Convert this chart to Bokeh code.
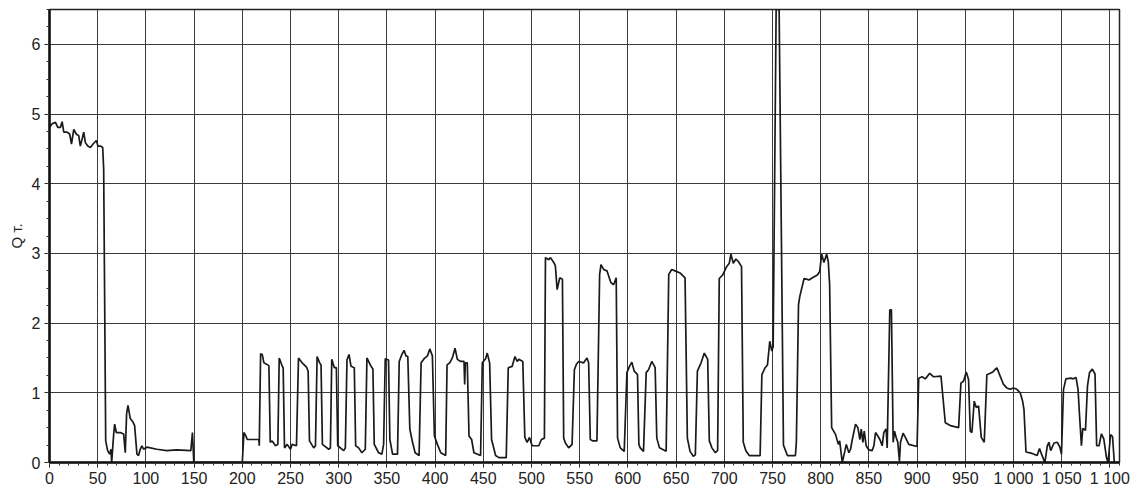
from bokeh.plotting import figure
from bokeh.models import FixedTicker, ColumnDataSource
from bokeh.embed import file_html
from bokeh.resources import INLINE

# time (x) and Q (t)
t_vals = [
    0, 2.8, 6.2, 8.6, 11.4, 13.1, 14.8, 18.3, 21, 22.8, 25.2, 27.9, 30.3, 32, 33.8, 35.5, 37.2, 39.7,
    42.4, 45.2, 48.6, 50.3, 52.8, 55.2, 56.2, 58.3, 60.3, 62.4, 63.8, 64.5, 66.6, 67.6, 69.3, 73.4,
    76.9, 78.6, 80, 81.4, 83.8, 86.6, 88.3, 90.7, 92.4, 94.1, 95.9, 97.6, 101, 111.4, 121.7, 132,
    146.6, 148.3, 149.7, 198.3,
    200, 201.7, 203.4, 205.2, 217.2, 217.6, 219, 220.7, 222.4, 227.6, 229, 231, 234.5, 236.9, 238.3,
    239.7, 241.4, 242.4, 243.8, 246.6, 250, 251.7, 256.2, 258.3, 262.1, 266.6, 268.3, 269.7, 274.1,
    275.9, 277.6, 280.3, 281.7, 283.1, 289.7, 291.4, 292.8, 295.5, 297.6, 299, 305.2, 306.9, 308.6,
    310.7, 312.8, 316.2, 317.6, 320.7, 324.1, 327.6, 329.3, 332.8, 335.5, 336.9, 341.4, 344.8, 346.6,
    348.3, 351.7, 353.1, 355.9, 361, 362.8, 365.5, 367.9, 369.7, 371.7, 373.8, 376.6, 379.3, 383.4,
    385.5, 388.6, 392.1, 394.5, 397.2, 399.3, 402.4, 405.9, 411, 412.4, 415.2, 417.9, 420.7, 423.1,
    426.6, 430, 430.7, 431.4, 433.4, 435.2, 437.9, 440.3, 447.2, 449, 452.4, 454.1, 456.6, 458.6,
    462.8, 466.2, 473.8, 475.9, 480, 482.8, 485.2, 486.9, 491, 493.1, 495.5, 497.9, 500.7, 507.6,
    510.3, 513.4, 514.5, 517.9, 519.7, 523.1, 524.8, 526.6, 529.3, 532.1, 533.4, 535.2, 538.6, 542.1,
    544.5, 546.6, 549, 554.1, 557.6, 559.3, 561, 563.8, 567.9, 570.7, 572.1, 574.8, 578.3, 582.4,
    585.2, 587.9, 589.3, 592.1, 596.2, 599, 601.7, 604.1, 606.6, 610, 611.4, 612.8, 616.2, 619, 621.4,
    624.8, 628.3, 630, 632.8, 639.7, 642.4, 645.5, 649, 654.1, 659.3, 661.7, 664.5, 667.9, 670,
    672.1, 675.9, 679.3, 682.8, 684.5, 687.2, 690.7, 693.1, 694.8, 698.3, 702.4, 705.2, 706.9, 709.3,
    712.1, 714.8, 717.9, 719.7, 722.4, 725.9, 737.2, 739, 742.4, 744.8, 747.2, 749.3, 750.7, 753.8,
    756.9, 761.4, 765.5, 773.8, 774.8, 777, 778.3, 782.8, 787.9, 791.4, 796.6, 799, 801, 803.4, 806.2,
    807.9, 809.3, 811.4, 815.5, 818.3, 819.7, 822.4, 825.2, 826.6, 829.3, 831, 832.8, 836.2, 838.6,
    840.7, 842.1, 843.8, 845.2, 847.2, 850, 853.4, 855.2, 856.9, 859.3, 861.4, 863.8, 865.5, 867.9,
    869, 871.7, 873.4, 875.2, 876.6, 878.3, 880, 881.7, 882.8, 885.5, 887.9, 891.4, 900, 901.7, 905.2,
    908.6, 913.1, 917.2, 924.8, 929.3, 934.5, 943.1, 945.5, 948.3, 951, 953.4, 955.2, 956.9, 959.3,
    961.4, 963.8, 966.6, 969.7, 972.4, 975.9, 978.6, 982.8, 986.2, 989.7, 993.1, 996.6, 1000, 1003.5,
    1007, 1009.5, 1010.9, 1013, 1019.3, 1024.6, 1027, 1029.1, 1032.6, 1035.1, 1036.8, 1038.6, 1042.1,
    1045.6, 1048.1, 1049.8, 1051.9, 1054.4, 1059.6, 1062.1, 1064.9, 1067, 1068.4, 1070.5, 1071.9,
    1074.7, 1076.8, 1078.9, 1081.8, 1084.6, 1086.3, 1088.8, 1091.2, 1093.7, 1096.5, 1098.2, 1100.7,
    1102.8, 1104.6,
]
q_vals = [
    4.81, 4.86, 4.88, 4.81, 4.81, 4.89, 4.74, 4.74, 4.71, 4.57, 4.78, 4.71, 4.69, 4.54, 4.64, 4.74, 4.59, 4.54,
    4.52, 4.57, 4.62, 4.54, 4.54, 4.52, 4.21, 0.31, 0.17, 0.12, 0.19, 0.0, 0.41, 0.55, 0.43, 0.43,
    0.41, 0.14, 0.70, 0.82, 0.63, 0.58, 0.53, 0.12, 0.10, 0.19, 0.24, 0.19, 0.22, 0.19, 0.17, 0.18,
    0.17, 0.43, 0.0, 0.0,
    0.0, 0.43, 0.39, 0.33, 0.33, 0.24, 1.56, 1.55, 1.43, 1.39, 0.29, 0.31, 0.24, 0.26, 1.50,
    1.45, 1.38, 1.36, 0.21, 0.26, 0.19, 0.26, 0.24, 1.50, 1.43, 1.37, 1.31, 0.31, 0.21,
    0.24, 1.52, 1.43, 1.40, 0.26, 0.19, 0.21, 1.48, 1.36, 1.36, 0.24, 0.17, 0.21, 1.47,
    1.55, 1.38, 1.36, 0.24, 0.21, 0.14, 0.19, 1.50, 1.40, 1.34, 0.26, 0.14, 0.12, 0.26,
    1.49, 1.47, 0.33, 0.12, 0.12, 1.45, 1.55, 1.61, 1.53, 1.52, 0.48, 0.29, 0.14, 0.10,
    1.43, 1.49, 1.53, 1.63, 1.53, 0.38, 0.26, 0.14, 0.10, 1.40, 1.43, 1.50, 1.64, 1.48,
    1.45, 1.45, 1.12, 1.43, 1.43, 0.38, 0.33, 0.14, 0.10, 1.43, 1.49, 1.57, 1.43, 0.33,
    0.10, 0.07, 0.07, 1.36, 1.38, 1.52, 1.45, 1.48, 1.45, 0.36, 0.29, 0.36, 0.24, 0.24,
    0.33, 0.35, 2.94, 2.91, 2.94, 2.87, 2.82, 2.48, 2.65, 2.63, 0.35, 0.28, 0.21, 0.26,
    1.33, 1.41, 1.45, 1.43, 1.50, 1.43, 0.33, 0.31, 0.31, 2.70, 2.84, 2.77, 2.75, 2.58,
    2.55, 2.65, 0.35, 0.21, 0.16, 1.29, 1.38, 1.44, 1.31, 1.26, 0.26, 0.21, 0.16, 1.29, 1.33,
    1.45, 1.36, 0.35, 0.21, 0.16, 2.70, 2.77, 2.75, 2.72, 2.65, 0.35, 0.16, 0.09, 0.11,
    1.31, 1.43, 1.57, 1.48, 0.31, 0.21, 0.14, 0.17, 2.64, 2.69, 2.81, 2.86, 2.99, 2.86,
    2.92, 2.88, 2.81, 0.29, 0.17, 0.10, 0.10, 1.26, 1.36, 1.40, 1.74, 1.60, 1.66, 6.5,
    6.5, 0.25, 0.10, 0.10, 0.30, 2.26, 2.38, 2.64, 2.62, 2.65, 2.69, 2.74, 2.99, 2.87, 2.99,
    2.88, 2.55, 0.50, 0.40, 0.26, 0.31, 0.0, 0.17, 0.26, 0.14, 0.19, 0.33, 0.55, 0.50,
    0.33, 0.48, 0.29, 0.45, 0.24, 0.18, 0.17, 0.24, 0.43, 0.38, 0.33, 0.24, 0.43, 0.48,
    0.21, 2.19, 2.19, 0.29, 0.45, 0.36, 0.29, 0.02, 0.29, 0.42, 0.36, 0.26, 0.23, 1.21, 1.23,
    1.20, 1.28, 1.23, 1.24, 0.57, 0.53, 0.50, 1.14, 1.17, 1.30, 1.19, 0.45, 0.43, 0.88,
    0.79, 0.81, 0.36, 0.29, 1.26, 1.28, 1.30, 1.36, 1.24, 1.12, 1.07, 1.05, 1.07, 1.05,
    1.00, 0.88, 0.76, 0.15, 0.13, 0.10, 0.20, 0.12, 0.0, 0.24, 0.29, 0.17, 0.28,
    0.29, 0.22, 0.12, 1.05, 1.20, 1.21, 1.20, 1.22, 1.05, 0.71, 0.24, 0.49,
    0.46, 1.10, 1.29, 1.34, 1.27, 0.24, 0.24, 0.41, 0.34, 0.07, 0.0, 0.40,
    0.37, 0.0,
]

x_ticks = list(range(0, 1101, 50))
x_tick_labels = {t: (f"{t // 1000} {t % 1000:03d}" if t >= 1000 else str(t)) for t in x_ticks}
y_ticks = [0, 1, 2, 3, 4, 5, 6]

src = ColumnDataSource(data=dict(t=t_vals, q=q_vals))

p = figure(width=1137, height=489, x_range=(0, 1110), y_range=(0, 6.5),
           output_backend="svg", toolbar_location=None,
           min_border_left=49, min_border_right=18, min_border_top=9, min_border_bottom=27)

p.line("t", "q", source=src, line_color="#1a1a1a", line_width=1.7)

FONT = "Liberation Sans"
p.xaxis.ticker = FixedTicker(ticks=x_ticks, minor_ticks=list(range(0, 1111, 10)))
p.xaxis.major_label_overrides = x_tick_labels
p.yaxis.ticker = FixedTicker(ticks=y_ticks, minor_ticks=[i * 0.25 for i in range(0, 27)])

for ax in (p.xaxis[0], p.yaxis[0]):
    ax.axis_line_color = "#111111"
    ax.axis_line_width = 2.5
    ax.major_tick_line_color = "#222222"
    ax.minor_tick_line_color = "#333333"
    ax.major_tick_in = 0
    ax.major_tick_out = 5
    ax.minor_tick_in = 0
    ax.minor_tick_out = 3
    ax.major_label_text_font = FONT
    ax.major_label_text_font_size = "16px"
    ax.major_label_text_color = "#222222"

p.xaxis.major_label_standoff = 2
p.yaxis.major_label_standoff = 4
p.yaxis.axis_label = "Q т."
p.yaxis.axis_label_text_font = FONT
p.yaxis.axis_label_text_font_size = "15px"
p.yaxis.axis_label_text_font_style = "normal"
p.yaxis.axis_label_text_color = "#222222"
p.yaxis.axis_label_standoff = 4

p.xgrid.ticker = FixedTicker(ticks=x_ticks)
p.ygrid.ticker = FixedTicker(ticks=y_ticks)
p.grid.grid_line_color = "#3a3a3a"
p.grid.grid_line_width = 1
p.grid.grid_line_alpha = 1.0

p.outline_line_color = "#222222"
p.outline_line_width = 1.5
p.background_fill_color = "white"
p.border_fill_color = "white"

open("out.html", "w").write(file_html(p, INLINE))
